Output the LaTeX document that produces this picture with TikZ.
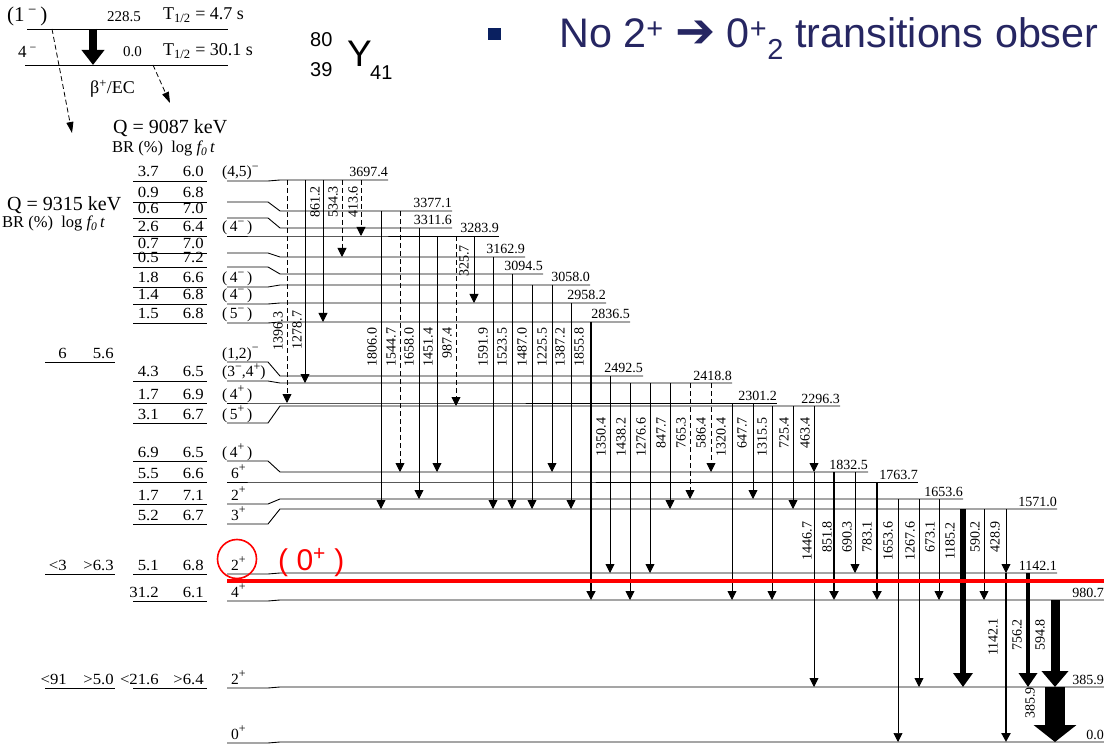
\documentclass[tikz,border=0pt]{standalone}
\usepackage{fontspec}
\setmainfont{Liberation Serif}
\newfontfamily\arial{Liberation Sans}
\newfontfamily\dejavu{DejaVu Sans}
\usetikzlibrary{arrows.meta}
\definecolor{navy}{RGB}{38,38,98}
\definecolor{bnavy}{RGB}{10,32,96}
\definecolor{myred}{RGB}{255,0,0}
\newcommand\fs[1]{\fontsize{#1}{#1}\selectfont}
\newcommand\mn{\raisebox{0.42em}{\fs{12}−}}
\newcommand\pl{\raisebox{0.42em}{\fs{12}+}}
\newcommand\tmn{\textsuperscript{−}}
% level: name, row y, level y, end x, label
\newcommand\mylev[5]{%
  \coordinate (L#1) at (0,#3);
  \draw[lvl] (227,#2) -- (268,#2) -- (280,#3) -- (#4,#3);
  \node[elab] (E#1) at (#4,#3-3) {#5};}
% gamma: [style] x, from, to, label x, label y, label
\newcommand\mygam[7][]{%
  \draw[gline,#1] ([xshift=#2pt]L#3) -- ([xshift=#2pt]L#4);
  \node[glab] at (#5,#6) {#7};}
\newcommand\brrow[3]{%
  \node[tab,anchor=base east] at (159,#1-4) {#2};
  \node[tab,anchor=base east] at (204,#1-4) {#3};
  \draw[ul] (133,#1) -- (207,#1);}
\newcommand\lrow[3]{%
  \node[tab,anchor=base east] at (67,#1-4) {#2};
  \node[tab,anchor=base east] at (114,#1-4) {#3};
  \draw[ul] (45,#1) -- (115,#1);}
\newcommand\spin[3][222]{\node[spn,anchor=base west] at (#1,#2-4) {#3};}
\begin{document}
\begin{tikzpicture}[x=1pt,y=-1pt,
  lvl/.style={line width=0.9pt},
  ul/.style={line width=0.8pt},
  gline/.style={line width=0.9pt,-{Triangle[width=9pt,length=9pt]}},
  dsh/.style={dash pattern=on 5pt off 3pt},
  elab/.style={anchor=base east,font=\fs{14},inner sep=0pt},
  glab/.style={rotate=90,font=\fs{14},inner sep=0pt},
  tab/.style={font=\fs{15.5},inner sep=0pt,xscale=1.08},
  spn/.style={font=\fs{15.5},inner sep=0pt}]
\useasboundingbox (0,0) rectangle (1104,746);
\fill[white] (0,0) rectangle (1104,746);

% ---------- top inset: 80Y ----------
\coordinate (T1) at (0,29);
\coordinate (T0) at (0,65);
\draw[lvl] (27,29) -- (228,29);
\draw[lvl] (25,65) -- (228,65);
\draw[line width=8pt,-{Triangle[width=22pt,length=15pt]}] ([xshift=93pt]T1) -- ([xshift=93pt]T0);
\coordinate (q1) at (72,133);
\coordinate (q2) at (170,103);
\draw[dsh,line width=0.8pt,-{Triangle[width=7pt,length=11pt]}] ([xshift=52pt]T1) -- (q1);
\draw[dsh,line width=0.8pt,-{Triangle[width=7pt,length=11pt]}] ([xshift=153pt]T0) -- (q2);
\node[anchor=base west,inner sep=0pt,font=\fs{21}] (s1) at (7,22) {(1\,\tmn\,)};
\node[anchor=base west,inner sep=0pt,font=\fs{15}] (e1) at (107,22) {228.5};
\node[anchor=base west,inner sep=0pt,font=\fs{18}] (h1) at (163,20) {T\textsubscript{1/2} = 4.7 s};
\node[anchor=base west,inner sep=0pt,font=\fs{17}] (s0) at (18,58) {4\,\tmn};
\node[anchor=base west,inner sep=0pt,font=\fs{15}] (e0) at (123,57) {0.0};
\node[anchor=base west,inner sep=0pt,font=\fs{18}] (h0) at (163,56) {T\textsubscript{1/2} = 30.1 s};
\node[anchor=base west,inner sep=0pt,font=\fs{18}] (bec) at (90,94) {β\textsuperscript{+}/EC};
\node[anchor=base west,inner sep=0pt,font=\fs{20}] (qa) at (113,134) {Q = 9087 keV};
\node[anchor=base west,inner sep=0pt,font=\fs{16.5}] (bra) at (112,153) {BR (\%)\ \ log \textit{f\textsubscript{0}\,t}};
\node[anchor=base west,inner sep=0pt,font=\fs{20}] (qb) at (7,211) {Q = 9315 keV};
\node[anchor=base west,inner sep=0pt,font=\fs{16.5}] (brb) at (2,228) {BR (\%)\ \ log \textit{f\textsubscript{0}\,t}};

% nucleus label
\node[anchor=base west,inner sep=0pt,font=\arial\fs{20}] (A) at (310,47) {80};
\node[anchor=base west,inner sep=0pt,font=\arial\fs{20}] (Z) at (310,77) {39};
\node[anchor=base west,inner sep=0pt,font=\arial\fs{37}] (Y) at (347,67) {Y};
\node[anchor=base west,inner sep=0pt,font=\arial\fs{20}] (N) at (370,80) {41};

% slide text
\fill[bnavy] (488,28) rectangle (501,40);
\node[anchor=base west,inner sep=0pt,font=\arial\fs{41.3},text=navy] (title) at (559,48)
  {No 2\textsuperscript{+} {\dejavu\fs{48}➔} 0\textsuperscript{+}\textsubscript{2} transitions obser};

% ---------- levels ----------
\mylev{3697}{181}{180}{388}{3697.4}
\mylev{3377}{202}{211}{452}{3377.1}
\mylev{3311}{218}{228}{452}{3311.6}
\mylev{3283}{236}{236}{499}{3283.9}
\mylev{3162}{253}{257}{525}{3162.9}
\mylev{3094}{267}{274}{543}{3094.5}
\mylev{3058}{287}{285}{590}{3058.0}
\mylev{2958}{304}{303}{606}{2958.2}
\mylev{2836}{323}{322}{630}{2836.5}
\mylev{2492}{362}{376}{643}{2492.5}
\mylev{2418}{381}{383}{732}{2418.8}
\mylev{2301}{403}{403}{777}{2301.2}
\mylev{2296}{423}{406}{840}{2296.3}
\mylev{1832}{461}{472}{868}{1832.5}
\mylev{1763}{482}{482}{918}{1763.7}
\mylev{1653}{504}{499}{963}{1653.6}
\mylev{1571}{524}{509}{1057}{1571.0}
\mylev{1142}{574}{573}{1057}{1142.1}
\mylev{980}{601}{600}{1104}{980.7}
\mylev{385}{688}{687}{1104}{385.9}
\mylev{0}{743}{742}{1104}{0.0}

% ---------- table ----------
\brrow{181}{3.7}{6.0}\spin{181}{(4,5)\mn}
\brrow{202}{0.9}{6.8}
\brrow{218}{0.6}{7.0}
\brrow{236}{2.6}{6.4}\spin{236}{(\,4\mn\,)}
\brrow{253}{0.7}{7.0}
\brrow{267}{0.5}{7.2}
\brrow{287}{1.8}{6.6}\spin{287}{(\,4\mn\,)}
\brrow{304}{1.4}{6.8}\spin{304}{(\,4\mn\,)}
\brrow{323}{1.5}{6.8}\spin{323}{(\,5\mn\,)}
\lrow{362}{6}{5.6}\spin{362}{(1,2)\mn}
\brrow{381}{4.3}{6.5}\spin{381}{(3\mn,4\pl)}
\brrow{403}{1.7}{6.9}\spin{403}{(\,4\pl\,)}
\brrow{423}{3.1}{6.7}\spin{423}{(\,5\pl\,)}
\brrow{461}{6.9}{6.5}\spin{461}{(\,4\pl\,)}
\brrow{482}{5.5}{6.6}\spin[231]{482}{6\pl}
\brrow{504}{1.7}{7.1}\spin[231]{504}{2\pl}
\brrow{524}{5.2}{6.7}\spin[231]{524}{3\pl}
\lrow{574}{<3}{>6.3}\brrow{574}{5.1}{6.8}\spin[231]{574}{2\pl}
\brrow{601}{31.2}{6.1}\spin[231]{601}{4\pl}
\lrow{688}{<91}{>5.0}\brrow{688}{<21.6}{>6.4}\spin[231]{688}{2\pl}
\spin[231]{743}{0\pl}

% ---------- gammas ----------
\mygam[dsh]{287}{3697}{2301}{278}{331}{1396.3}
\mygam{305}{3697}{2418}{297}{330}{1278.7}
\mygam{323}{3697}{2836}{315}{202}{861.2}
\mygam[dsh]{342}{3697}{3162}{333}{202}{534.3}
\mygam[dsh]{361}{3697}{3283}{353}{202}{413.6}
\mygam{381}{3377}{1571}{372}{347}{1806.0}
\mygam[dsh]{400}{3377}{1832}{391}{347}{1544.7}
\mygam{419}{3311}{1653}{409}{347}{1658.0}
\mygam{437}{3283}{1832}{428}{347}{1451.4}
\mygam[dsh]{456}{3283}{2296}{447}{343}{987.4}
\mygam{474}{3283}{2958}{464}{261}{325.7}
\mygam{493}{3162}{1571}{483}{347}{1591.9}
\mygam{512}{3094}{1571}{502}{347}{1523.5}
\mygam{532}{3058}{1571}{522}{347}{1487.0}
\mygam{552}{3058}{1832}{542}{347}{1225.5}
\mygam{571}{2958}{1571}{560}{347}{1387.2}
\mygam[line width=1.4pt]{591}{2836}{980}{579}{347}{1855.8}
\mygam{610}{2492}{1142}{601}{437}{1350.4}
\mygam{630}{2418}{980}{621}{437}{1438.2}
\mygam{650}{2418}{1142}{641}{437}{1276.6}
\mygam{670}{2418}{1571}{661}{433}{847.7}
\mygam[dsh]{690}{2418}{1653}{681}{433}{765.3}
\mygam[dsh]{711}{2418}{1832}{701}{433}{586.4}
\mygam{732}{2301}{980}{721}{437}{1320.4}
\mygam{753}{2301}{1653}{742}{433}{647.7}
\mygam{772}{2296}{980}{762}{437}{1315.5}
\mygam{793}{2296}{1571}{784}{433}{725.4}
\mygam{814}{2296}{1832}{805}{433}{463.4}
\mygam{814}{1832}{385}{807}{541}{1446.7}
\mygam[line width=2pt]{834}{1832}{980}{827}{537}{851.8}
\mygam{855}{1832}{1142}{847}{537}{690.3}
\mygam[line width=2pt]{877}{1763}{980}{867}{537}{783.1}
\mygam[line width=0.7pt]{898}{1653}{0}{888}{541}{1653.6}
\mygam{919}{1653}{385}{910}{541}{1267.6}
\mygam{939}{1653}{980}{930}{537}{673.1}
\mygam[line width=6.5pt,-{Triangle[width=19pt,length=14pt]}]{963}{1571}{385}{950}{541}{1185.2}
\mygam{984}{1571}{980}{975}{537}{590.2}
\mygam{1006}{1571}{1142}{995}{537}{428.9}
\mygam[line width=2.2pt]{1006}{1142}{0}{993}{637}{1142.1}
\mygam[line width=4pt,-{Triangle[width=18pt,length=14pt]}]{1028}{1142}{385}{1017}{635}{756.2}
\mygam[line width=9pt,-{Triangle[width=26pt,length=16pt]}]{1055}{980}{385}{1040}{635}{594.8}
\mygam[line width=20pt,-{Triangle[width=42pt,length=17pt]}]{1055}{385}{0}{1030}{703}{385.9}

% ---------- red annotations ----------
\draw[myred,line width=3.5pt] ([xshift=227pt]L980 |- 0,581) -- (1104,581);
\draw[myred,line width=1.6pt] (237,559) circle[radius=19.5pt];
\node[anchor=base west,inner sep=0pt,font=\arial\fs{30},text=myred] (zp) at (278,570) {( 0\textsuperscript{+} )};
\end{tikzpicture}
\end{document}
